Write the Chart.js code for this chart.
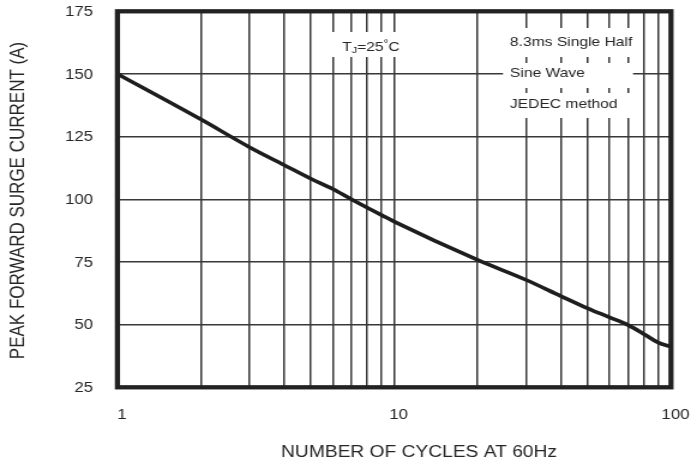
<!DOCTYPE html>
<html><head><meta charset="utf-8">
<script src="https://cdn.jsdelivr.net/npm/chart.js@4"></script>
<style>html,body{margin:0;padding:0;background:#fff;overflow:hidden}</style></head>
<body><canvas id="c" width="576" height="461" style="display:block;width:691px;height:461px"></canvas>
<script>
// ---- data ----
const cycles = [1,2,3,4,5,6,7,8,9,10,20,30,40,50,60,70,80,90,100];
const surgeCurrent = [150,131.9,120.8,113.7,108.2,104.1,100,96.6,93.7,91.1,75.8,67.8,61.4,56.5,52.9,49.8,46.2,42.8,41.2];
const xGridValues = [1,2,3,4,5,6,7,8,9,10,20,30,40,50,60,70,80,90,100];
const xTickLabels = [1,10,100];
const yTicks = [25,50,75,100,125,150,175];
const xTitle = 'NUMBER OF CYCLES AT 60Hz';
const yTitle = 'PEAK FORWARD SURGE CURRENT (A)';
const noteTj = ['T','J','=25','°','C'];
const noteLines = ['8.3ms Single Half','Sine Wave','JEDEC method'];

// ---- drawing ----
const S = 691/576;            // horizontal stretch of the picture
const X = d => d / S;         // display px -> canvas px (horizontal)
const TXT = '#262626';
const FONT = '"Liberation Sans", Arial, Helvetica, sans-serif';

const deco = {
  id: 'deco',
  beforeDatasetsDraw(chart) {
    const ctx = chart.ctx;
    ctx.save();
    ctx.fillStyle = '#fff';
    // T_J note box
    ctx.fillRect(X(325), 32, X(404) - X(325), 25);
    // right note boxes
    [[28,57],[63,88],[93,118]].forEach(([a,b]) => ctx.fillRect(X(503), a, X(633) - X(503), b - a));
    ctx.fillStyle = TXT;
    ctx.textBaseline = 'alphabetic';
    ctx.textAlign = 'left';
    // T_J = 25 °C
    const parts = [
      {t: noteTj[0], f: 13, dy: 0},
      {t: noteTj[1], f: 9, dy: 2.5},
      {t: noteTj[2], f: 13, dy: 0},
      {t: noteTj[3], f: 10, dy: -4},
      {t: noteTj[4], f: 13, dy: 0}
    ];
    let w = 0;
    parts.forEach(p => { ctx.font = `${p.f}px ${FONT}`; p.w = ctx.measureText(p.t).width; w += p.w; });
    let x = X(371) - w / 2;
    parts.forEach(p => { ctx.font = `${p.f}px ${FONT}`; ctx.fillText(p.t, x, 50.5 + p.dy); x += p.w; });
    // right notes
    ctx.font = `13px ${FONT}`;
    const bl = [45.5, 77, 107.5];
    noteLines.forEach((t, i) => ctx.fillText(t, X(510), bl[i]));
    ctx.restore();
  },
  afterDatasetsDraw(chart) {
    const ctx = chart.ctx, a = chart.chartArea;
    ctx.save();
    ctx.strokeStyle = '#222';
    ctx.lineWidth = 4.3;
    ctx.strokeRect(a.left, a.top, a.right - a.left, a.bottom - a.top);
    ctx.restore();
  },
  afterDraw(chart) {
    const ctx = chart.ctx;
    ctx.save();
    ctx.fillStyle = TXT;
    ctx.textBaseline = 'alphabetic';
    ctx.textAlign = 'center';
    ctx.font = `16px ${FONT}`;
    ctx.fillText(xTitle, X(419), 456.5);
    ctx.translate(20.3, 200.5);
    ctx.rotate(-Math.PI / 2);
    ctx.font = `17px ${FONT}`;
    ctx.fillText(yTitle, 0, 0);
    ctx.restore();
  }
};

const gridOpts = {color: '#383838', lineWidth: 1.5, drawTicks: false};

new Chart(document.getElementById('c'), {
  type: 'line',
  data: {
    datasets: [{
      data: cycles.map((c, i) => ({x: c, y: surgeCurrent[i]})),
      borderColor: '#1e1e1e',
      borderWidth: 3.6,
      pointRadius: 0,
      cubicInterpolationMode: 'monotone',
      fill: false
    }]
  },
  options: {
    responsive: false,
    animation: false,
    devicePixelRatio: 1,
    layout: {padding: {top: 11.3, right: 16.7, left: 0, bottom: 0}},
    plugins: {legend: {display: false}, tooltip: {enabled: false}},
    scales: {
      x: {
        type: 'logarithmic', min: 1, max: 100,
        afterBuildTicks(s) { s.ticks = xGridValues.map(v => ({value: v})); },
        afterFit(s) { s.height = 73.7; s.paddingLeft = 0; s.paddingRight = 0; },
        grid: gridOpts,
        border: {display: false},
        ticks: {
          autoSkip: false, maxRotation: 0, minRotation: 0, padding: 19.3, labelOffset: X(4.5),
          color: TXT, font: {family: FONT, size: 14},
          callback: v => xTickLabels.includes(v) ? String(v) : ''
        }
      },
      y: {
        type: 'linear', min: 25, max: 175,
        afterBuildTicks(s) { s.ticks = yTicks.map(v => ({value: v})); },
        afterFit(s) { s.width = 97.9; s.paddingTop = 0; s.paddingBottom = 0; },
        grid: gridOpts,
        border: {display: false},
        ticks: {padding: 20.4, labelOffset: 1, color: TXT, font: {family: FONT, size: 14}}
      }
    }
  },
  plugins: [deco]
});
</script>
</body></html>
